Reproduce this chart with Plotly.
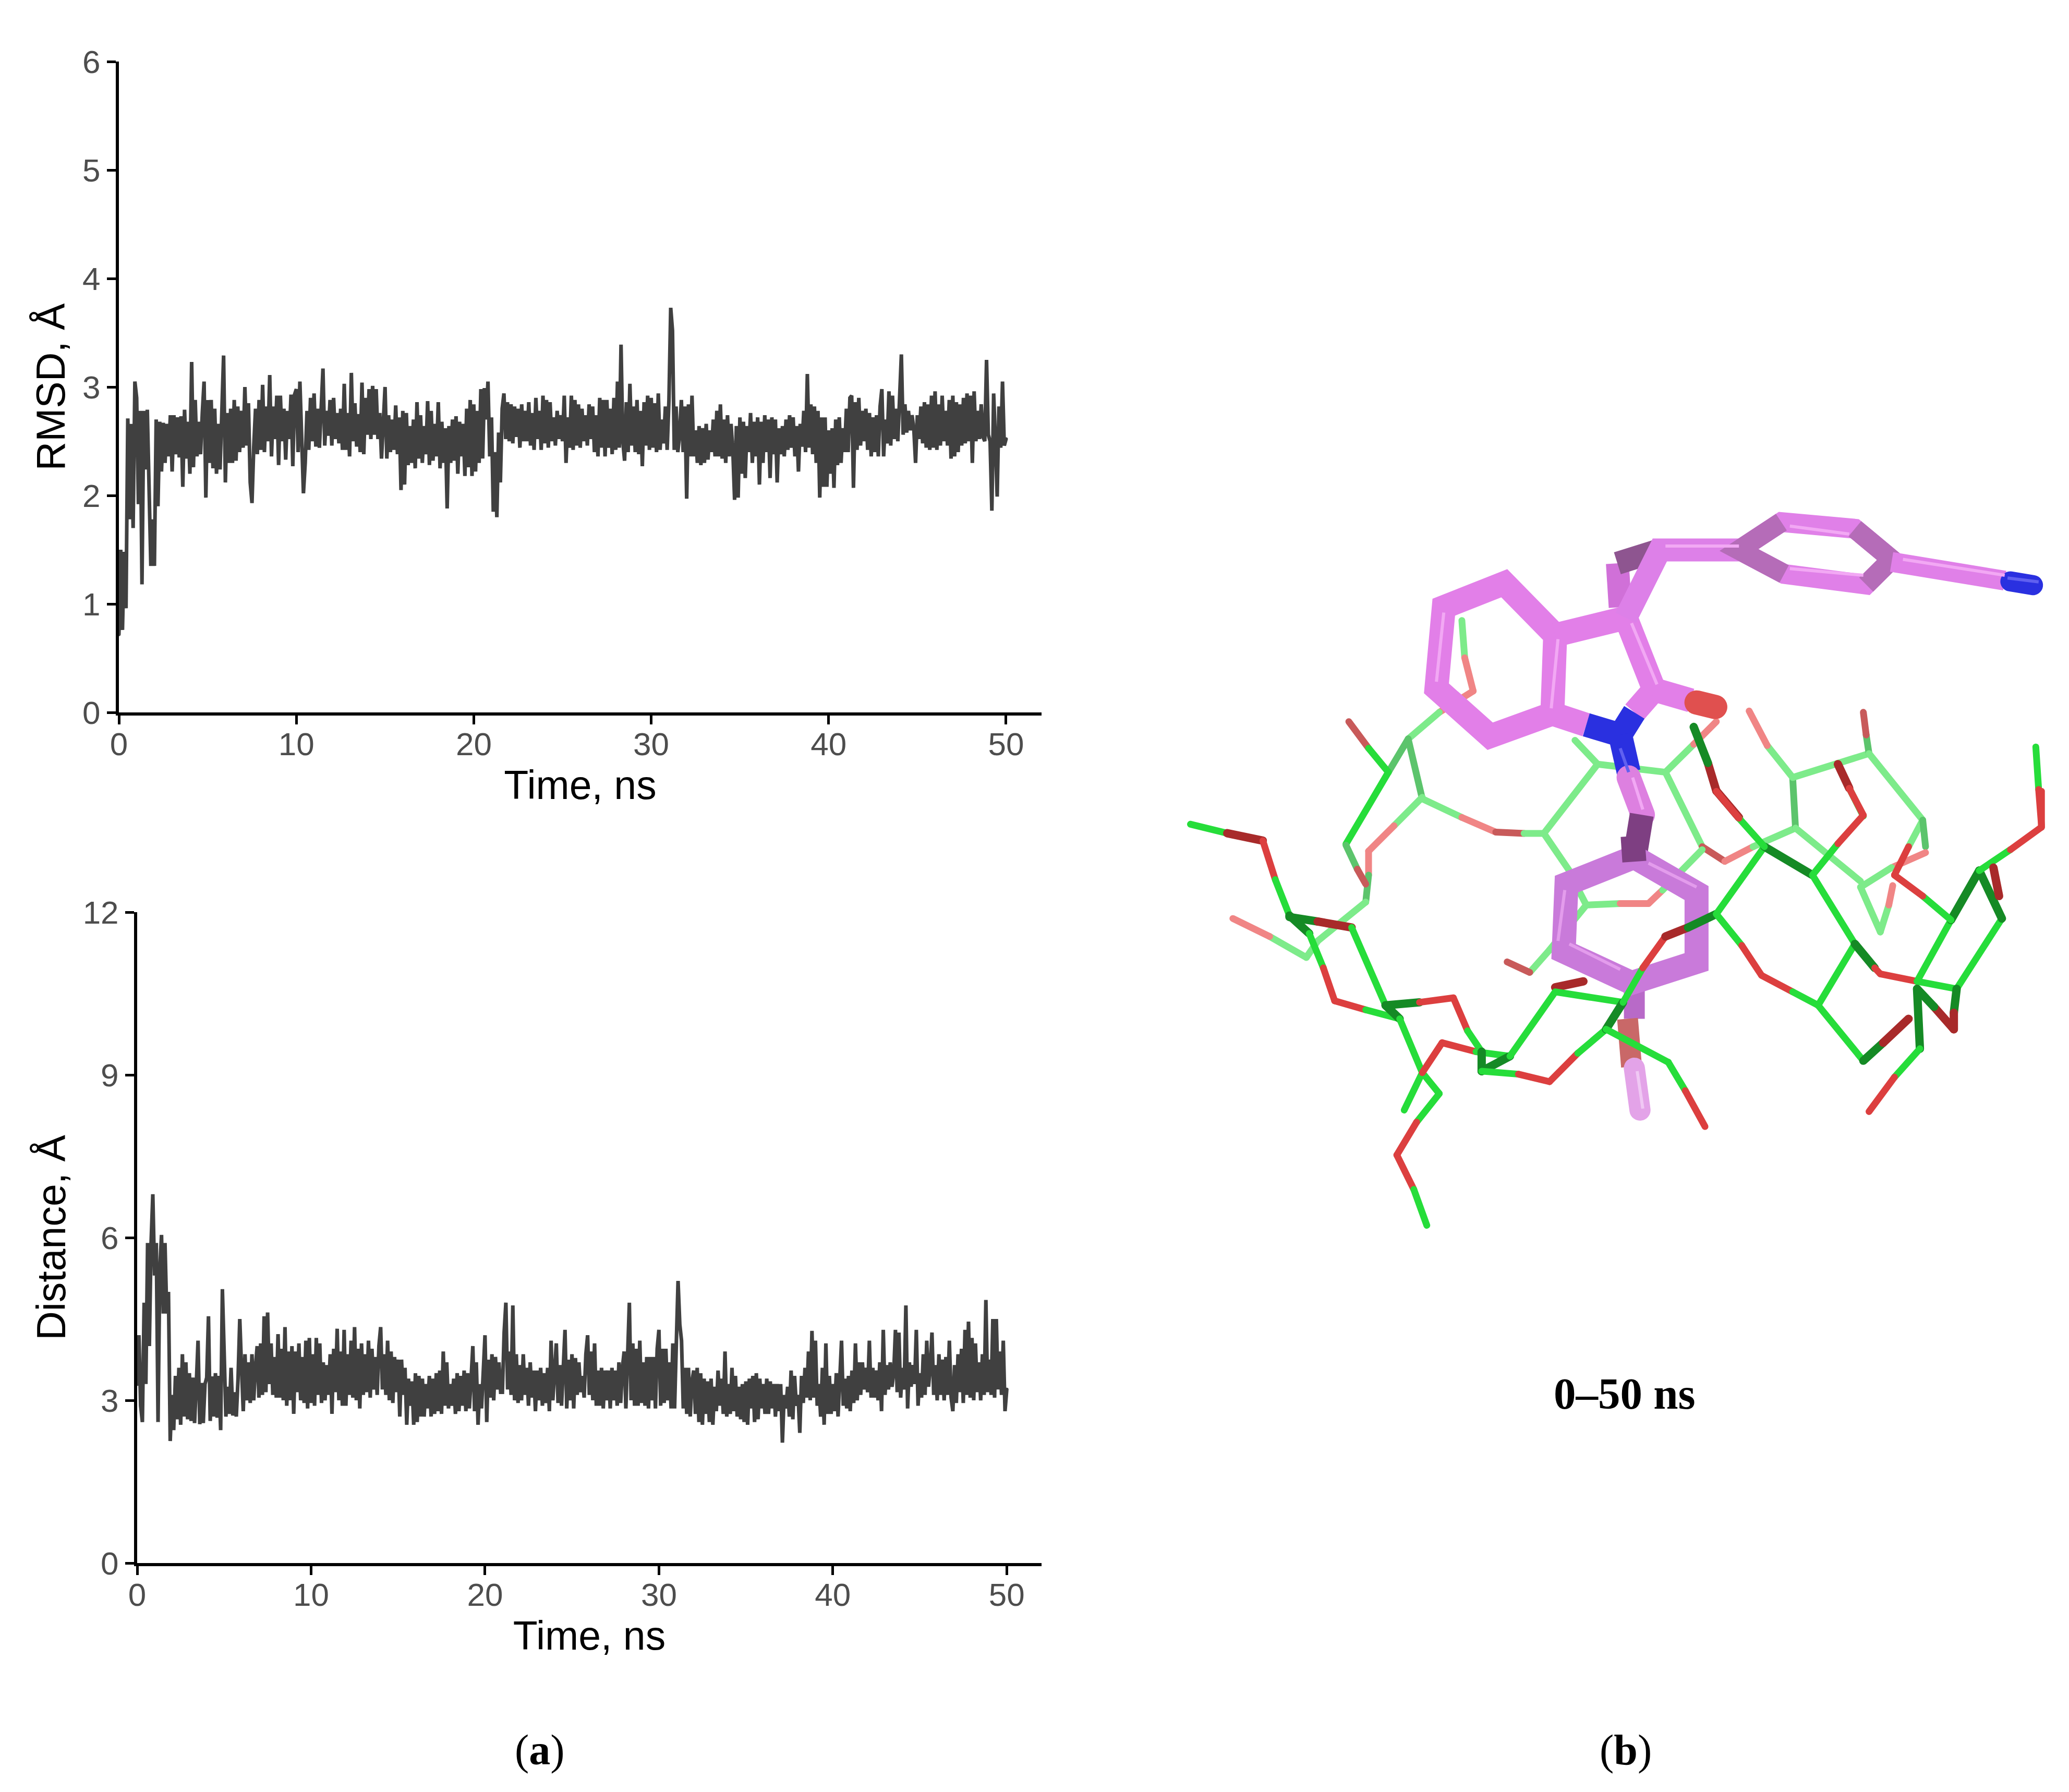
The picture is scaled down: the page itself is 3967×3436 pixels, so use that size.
import plotly.graph_objects as go

W, H = 3967, 3436

# ---------- panel (a): data ----------
time_ns = [i / 10 for i in range(501)]

rmsd = [
0.72,1.50,0.76,1.48,0.96,2.71,1.78,2.66,1.70,3.05,
2.90,1.92,2.78,1.18,2.78,2.24,2.79,2.18,1.35,1.78,
1.35,2.70,1.90,2.68,2.22,2.67,2.30,2.66,2.36,2.74,
2.22,2.74,2.38,2.72,2.35,2.73,2.08,2.79,2.34,2.68,
2.20,3.23,2.26,2.88,2.36,2.68,2.38,2.76,3.05,1.98,
2.88,2.30,2.88,2.25,2.80,2.20,2.66,2.24,2.72,3.29,
2.12,2.76,2.30,2.80,2.30,2.88,2.32,2.82,2.40,2.78,
2.44,3.00,2.46,2.85,2.12,1.93,2.45,2.80,2.38,2.88,
2.42,3.02,2.40,2.82,2.50,3.11,2.36,2.82,2.52,2.92,
2.28,2.92,2.50,2.80,2.33,2.78,2.52,2.93,2.27,2.93,
2.98,2.40,3.05,2.38,2.02,2.30,2.78,2.42,2.90,2.50,
2.94,2.45,2.80,2.44,2.75,3.17,2.46,2.78,2.55,2.88,
2.46,2.90,2.52,2.76,2.48,2.80,2.42,3.03,2.42,2.76,
2.36,3.13,2.50,2.85,2.45,2.75,2.40,3.04,2.38,2.90,
2.56,2.98,2.52,3.01,2.56,2.98,2.52,2.76,2.34,2.72,
3.00,2.34,2.74,2.40,2.70,2.42,2.83,2.38,2.72,2.05,
2.78,2.10,2.76,2.28,2.64,2.30,2.70,2.25,2.86,2.34,
2.74,2.30,2.64,2.38,2.87,2.28,2.78,2.32,2.66,2.36,
2.86,2.25,2.68,2.30,2.62,1.88,2.64,2.30,2.70,2.32,
2.73,2.20,2.68,2.36,2.66,2.18,2.80,2.26,2.88,2.18,
2.84,2.22,2.78,2.30,2.98,2.34,2.99,2.70,3.05,2.36,
2.72,1.85,2.40,1.80,2.58,2.12,2.80,2.94,2.52,2.86,
2.50,2.84,2.48,2.82,2.54,2.80,2.44,2.84,2.50,2.78,
2.50,2.86,2.46,2.76,2.42,2.90,2.52,2.78,2.42,2.92,
2.48,2.88,2.44,2.86,2.50,2.72,2.46,2.78,2.52,2.74,
2.50,2.92,2.30,2.72,2.44,2.92,2.42,2.88,2.46,2.84,
2.44,2.80,2.50,2.74,2.46,2.84,2.52,2.82,2.40,2.74,
2.36,2.90,2.44,2.88,2.36,2.88,2.44,2.80,2.38,2.90,
2.42,3.05,2.44,3.39,2.50,2.32,2.86,2.40,3.03,2.46,
2.82,2.40,2.88,2.38,2.78,2.27,2.86,2.46,2.92,2.42,
2.90,2.44,2.85,2.40,2.94,2.42,2.70,2.48,2.82,2.42,
2.88,3.73,3.52,2.42,2.82,2.40,2.56,2.88,2.40,2.82,
1.97,2.84,2.36,2.92,2.36,2.60,2.30,2.64,2.28,2.62,
2.30,2.66,2.33,2.60,2.40,2.70,2.36,2.78,2.36,2.84,
2.34,2.70,2.30,2.74,2.36,2.66,2.42,1.96,2.64,1.98,
2.72,2.20,2.68,2.16,2.64,2.40,2.76,2.30,2.68,2.36,
2.72,2.10,2.68,2.30,2.74,2.40,2.70,2.16,2.72,2.38,
2.70,2.12,2.62,2.38,2.64,2.36,2.70,2.42,2.74,2.44,
2.72,2.36,2.64,2.22,2.66,2.45,2.78,2.40,3.12,2.44,
2.84,2.38,2.82,2.30,2.78,1.98,2.72,2.08,2.72,2.08,
2.60,2.20,2.62,2.07,2.70,2.28,2.72,2.30,2.62,2.40,
2.80,2.40,2.90,2.92,2.07,2.86,2.42,2.90,2.46,2.78,
2.50,2.80,2.42,2.76,2.36,2.72,2.40,2.74,2.36,2.82,
2.98,2.36,2.70,2.48,2.96,2.46,2.92,2.52,2.80,2.50,
2.88,3.30,2.56,2.84,2.58,2.78,2.60,2.74,2.62,2.30,
2.74,2.52,2.82,2.48,2.86,2.44,2.84,2.42,2.92,2.44,
2.96,2.42,2.84,2.46,2.92,2.50,2.78,2.46,2.88,2.34,
2.92,2.36,2.86,2.40,2.84,2.46,2.90,2.48,2.94,2.50,
2.92,2.30,2.96,2.50,2.78,2.52,2.84,2.54,2.50,3.25,
2.56,2.50,1.86,2.94,2.50,1.99,2.82,2.44,3.05,2.46,
2.52]

distance = [
3.30,4.20,2.90,2.60,4.80,3.30,5.90,4.00,5.90,6.80,
5.30,5.90,2.60,5.40,6.05,4.60,5.90,4.60,5.00,2.25,
3.10,2.45,3.45,2.65,3.60,2.55,3.85,2.70,3.70,2.65,
3.50,2.62,3.42,2.58,3.30,4.10,2.56,3.32,2.58,3.30,
3.42,4.55,2.62,3.44,2.70,3.50,2.68,3.45,2.45,5.05,
3.90,2.70,3.25,2.75,3.60,2.72,3.15,2.70,3.40,4.50,
3.60,2.80,3.85,3.00,3.70,2.95,3.85,3.00,3.60,4.00,
3.05,4.05,3.10,4.55,3.15,4.62,3.30,4.05,3.10,3.80,
3.05,4.22,3.05,3.95,3.00,4.35,2.90,3.90,3.00,4.00,
2.75,3.90,3.15,4.05,3.00,3.80,2.95,4.10,2.85,4.15,
2.95,3.85,2.90,4.15,3.10,4.05,2.95,3.70,3.00,3.65,
3.10,3.85,2.75,3.95,3.15,4.32,3.00,3.90,2.90,4.30,
2.90,3.85,3.10,4.10,3.05,4.35,3.00,3.95,2.85,4.05,
3.10,3.85,3.15,4.10,3.05,3.95,3.20,3.80,3.10,4.00,
4.35,3.20,3.85,3.10,4.10,3.00,3.90,2.95,3.80,3.15,
3.75,2.70,3.75,3.10,3.60,2.55,3.40,2.90,3.35,2.55,
3.50,2.60,3.45,2.70,3.40,2.70,3.30,2.85,3.45,2.70,
3.40,2.75,3.50,2.80,3.55,2.75,3.90,2.90,3.70,2.85,
3.30,2.90,3.40,2.75,3.50,2.80,3.45,2.90,3.55,2.80,
3.50,2.85,3.40,4.00,2.80,3.70,2.55,3.30,2.85,3.55,
4.20,2.60,3.75,3.05,3.85,3.00,3.80,3.20,3.70,3.15,
3.15,4.25,4.80,3.20,3.90,3.10,4.75,3.00,3.85,2.95,
3.65,3.00,3.85,3.10,3.60,2.90,3.70,3.05,3.55,2.80,
3.55,3.00,3.60,2.90,3.50,2.95,3.60,2.80,4.10,3.00,
3.70,4.05,2.95,3.65,2.90,3.70,4.30,2.85,3.75,3.00,
3.85,2.85,3.78,3.10,3.70,3.15,3.45,3.05,3.85,4.20,
3.10,3.90,3.00,4.05,2.90,3.55,2.90,3.60,2.85,3.55,
3.00,3.55,2.85,3.60,3.00,3.55,2.90,3.70,2.95,3.60,
3.90,2.85,4.00,4.80,3.00,4.05,2.90,3.95,2.90,4.10,
2.95,3.70,2.90,3.80,2.85,3.80,3.00,3.80,2.85,3.95,
4.30,2.90,3.95,2.95,3.95,3.00,3.70,2.85,4.05,2.85,
4.05,5.20,4.40,4.10,2.85,3.60,2.75,3.60,2.70,3.35,
3.55,2.75,3.60,2.60,3.50,2.55,3.40,2.75,3.35,2.60,
3.40,2.55,3.25,2.80,3.55,2.90,3.40,2.75,3.90,2.70,
3.30,2.75,3.60,2.80,3.45,2.70,3.25,2.65,3.30,2.60,
3.35,2.55,3.40,2.85,3.45,2.60,3.50,2.65,3.40,2.85,
3.30,2.75,3.40,2.75,3.35,2.85,3.30,2.70,3.30,2.80,
3.30,2.22,3.10,2.85,3.25,2.70,3.55,2.65,3.45,2.90,
3.10,2.40,3.45,2.95,3.60,3.05,3.90,3.00,4.28,3.05,
4.10,2.90,3.30,2.70,3.60,2.55,4.05,2.75,3.45,2.75,
3.30,2.80,3.50,2.70,3.40,4.10,2.90,3.40,2.85,3.45,
2.80,3.55,2.95,4.05,3.00,3.70,3.10,3.70,3.20,3.60,
3.15,4.10,3.05,3.60,3.05,3.55,3.00,3.70,2.80,4.30,
3.10,3.65,3.20,3.70,3.25,3.50,4.30,3.15,4.25,3.05,
3.60,3.20,4.75,2.85,3.70,3.25,3.65,3.30,4.30,2.90,
3.50,3.05,3.85,3.10,4.10,3.25,3.60,4.25,3.10,3.65,
3.00,3.85,3.10,3.75,3.00,3.80,3.10,4.10,3.05,2.80,
3.65,2.95,3.85,3.15,3.95,2.95,4.30,3.10,4.45,3.05,
4.15,3.00,4.05,3.15,3.70,3.00,3.85,3.10,4.85,3.15,
3.75,3.10,4.50,3.05,4.50,3.20,3.90,3.10,4.10,2.80,
3.20]

x_ticks = [0, 10, 20, 30, 40, 50]
rmsd_ticks = [0, 1, 2, 3, 4, 5, 6]
distance_ticks = [0, 3, 6, 9, 12]

# ---------- panel (b): stick model ----------
# bonds: (colour key, x1, y1, x2, y2); "upper" and "lower" are two reading frames
palette = {"G": "#26DD3A", "R": "#DC3F3F", "g": "#7DEB8A", "r": "#F08585",
           "D": "#158A25", "E": "#A82A2A", "M": "#5CC46C", "n": "#C85A5A"}

back_upper = [
("g",510,470,515,610),("r",515,610,530,735),("r",530,735,470,815),("g",470,815,415,915),
("M",415,915,380,1040),("n",310,850,345,950),("G",345,950,380,1040),("G",380,1040,305,1310),
("M",415,915,440,1140),("g",440,1140,510,1210),("r",510,1210,570,1265),("n",570,1265,620,1270),
("g",620,1270,655,1270),("g",655,1270,750,1010),("g",655,1270,700,1410),("g",710,920,750,1010),
("g",750,1010,870,1040),("g",870,1040,920,935),("r",920,935,960,850),("g",870,1040,935,1320),
("n",935,1320,975,1375),("r",975,1375,1025,1320),("g",1025,1320,1100,1250),("M",1100,1250,1095,1060),
("g",1095,1060,1230,970),("g",1095,1060,1050,940),("r",1050,940,1018,810),("M",1230,970,1225,900),
("n",1225,900,1220,815),("g",1230,970,1325,1220),("g",1325,1220,1300,1320),("M",1325,1220,1330,1320),
("g",1100,1250,1215,1450),
]
back_lower = [
("g",440,50,390,145),("r",390,145,345,230),("r",345,230,345,310),("M",345,310,340,400),
("g",340,400,255,530),("g",255,530,235,585),("g",235,585,170,515),("r",170,515,105,455),
("M",305,210,325,290),("n",325,290,340,340),("g",1215,350,1250,500),("g",1250,500,1265,410),
("r",1265,410,1272,345),("r",1330,235,1270,285),("g",1270,285,1215,350),
("g",730,410,790,405),("r",790,405,840,405),("r",840,405,865,360),("g",865,360,935,225),
("g",730,410,700,300),("g",730,410,665,560),("g",665,560,630,635),("n",630,635,590,600),
]
front_upper = [
("E",1000,1210,960,1110),("E",960,1110,945,1005),("D",945,1005,920,870),
("G",1220,1205,1195,1100),("E",1195,1100,1175,1010),
("G",1530,1105,1525,945),("R",1530,1105,1535,1240),
]
front_lower = [
("G",30,140,95,170),("E",95,170,158,195),("R",158,195,180,325),("G",180,325,205,445),
("D",205,445,240,505),("D",205,450,255,465),("E",255,465,315,485),("G",240,505,265,620),
("R",265,620,285,730),("R",285,730,340,760),("G",340,760,400,790),("G",315,485,375,745),
("D",375,745,435,735),("R",435,735,495,720),("R",495,720,520,830),("G",520,830,545,900),
("D",375,745,400,790),("G",400,790,440,970),("G",440,970,470,1040),("G",470,1040,430,1135),
("R",430,1135,395,1245),("R",395,1245,425,1360),("G",425,1360,448,1480),("G",440,970,408,1095),
("R",440,970,475,870),("R",475,870,535,900),("G",535,900,595,915),("D",545,900,545,965),
("D",545,965,595,915),("G",545,965,610,975),("R",610,975,665,1000),("R",665,1000,715,905),
("G",715,905,765,825),("G",595,915,675,700),("E",675,685,725,665),("G",675,700,795,735),
("D",795,735,765,825),("G",795,735,830,620),("R",830,620,870,515),("E",870,515,910,485),
("D",910,485,960,440),("G",765,825,875,935),("G",875,935,905,1030),("R",905,1030,940,1150),
("G",960,440,1045,215),("D",1045,215,1130,310),("G",1130,310,1175,205),("R",1175,205,1220,110),
("R",1220,110,1195,20),("G",1045,215,1000,120),("R",1000,120,960,30),
("G",960,440,1005,545),("R",1005,545,1040,645),("R",1040,645,1095,700),("G",1095,700,1140,745),
("G",1140,745,1205,540),("G",1130,310,1205,540),("D",1205,540,1240,620),("R",1240,620,1250,640),
("R",1250,640,1315,665),("G",1315,665,1385,690),("G",1140,745,1220,930),("D",1220,930,1255,870),
("E",1255,870,1300,790),("G",1315,665,1375,460),("G",1385,690,1465,455),("D",1375,460,1425,295),
("D",1425,295,1465,455),("G",1425,295,1480,225),("R",1480,225,1535,150),("R",1535,150,1535,30),
("E",1450,285,1460,380),("G",1375,460,1325,380),("R",1325,380,1275,310),("R",1275,310,1300,215),
("D",1385,690,1380,770),("E",1380,770,1380,825),("E",1380,825,1345,750),("D",1345,750,1315,690),
("D",1315,690,1320,890),("G",1320,890,1275,985),("R",1275,985,1230,1100),
]

# ligand paths: (colour, width, frame, [x, y, x, y ...]); a fractional width asks for a rounded end
ligand_paths = [
("#D070D8",44,"u",[785,255,790,420]),("#8E5590",44,"u",[860,205,785,255]),
("#E27FE8",46,"u",[675,525,585,330,478,420,465,725,560,905,670,820,675,525]),
("#E27FE8",46,"u",[675,525,800,460,850,730,815,815]),("#E27FE8",46,"u",[670,820,730,862]),
("#E27FE8",46,"u",[850,730,915,770]),("#E0504F",46.5,"u",[925,778,958,795]),
("#2A30E0",46,"u",[730,862,790,900,815,815]),("#2A30E0",46,"u",[790,900,805,1040]),
("#DD80E0",46.5,"u",[805,1060,830,1200]),("#7E3F82",46,"u",[828,1200,815,1370]),
("#B86AC8",40,"l",[815,680,815,790]),("#C96868",40,"l",[803,790,810,950]),
("#E3A3E8",40.5,"l",[815,955,825,1095]),
("#C97ADA",46,"l",[815,250,925,370,925,600,810,670,690,565,695,340,815,250]),
("#7E3F82",46,"l",[812,180,815,265]),
("#DD80E8",44,"u",[800,460,860,205,1000,205]),
("#E080E8",38,"u",[1000,205,1075,100,1205,125,1270,240,1225,335,1080,295,1000,205]),
("#B56CB8",38,"u",[1075,100,1000,205,1080,295]),("#B56CB8",38,"u",[1205,125,1270,240,1225,335]),
("#E080E8",38,"u",[1270,250,1470,320]),("#2A30E0",38.5,"u",[1480,323,1520,337]),
("#F2A8F4",6,"u",[478,440,465,700]),("#F2A8F4",6,"u",[680,540,668,800]),
("#F2A8F4",6,"u",[810,480,855,710]),("#F2A8F4",6,"u",[870,190,1000,190]),
("#F2A8F4",6,"u",[1290,240,1470,300]),("#F2A8F4",6,"u",[1090,115,1195,145]),
("#F2A8F4",6,"u",[1090,275,1220,300]),("#6060F0",6,"u",[790,950,805,1040]),
("#6060F0",6,"u",[1475,310,1530,325]),("#F2A8F4",6,"u",[812,1060,830,1180]),
("#E39CEC",6,"l",[840,270,925,350]),("#E39CEC",6,"l",[700,540,790,625]),
("#E39CEC",6,"l",[692,360,680,530]),("#F0C8F4",6,"l",[820,965,830,1090]),
]

def fx(x):
    return 2250 + x * 1700 / 1568

def fy(y, frame):
    if frame == "u":
        return 950 + y * 800 / 1568
    return 1500 + y * 900 / 1568

fig = go.Figure()

LINE = "#404040"
fig.add_trace(go.Scatter(x=time_ns, y=rmsd, mode="lines", xaxis="x", yaxis="y",
                         line=dict(color=LINE, width=7), showlegend=False))
fig.add_trace(go.Scatter(x=time_ns, y=distance, mode="lines", xaxis="x2", yaxis="y2",
                         line=dict(color=LINE, width=7), showlegend=False))

def add_bonds(bonds, frame):
    for key, x1, y1, x2, y2 in bonds:
        fig.add_trace(go.Scatter(
            x=[fx(x1), fx(x2)], y=[fy(y1, frame), fy(y2, frame)], mode="lines",
            xaxis="x3", yaxis="y3", showlegend=False,
            line=dict(color=palette[key], width=16 if key in "DE" else 13)))

add_bonds(back_upper, "u")
add_bonds(back_lower, "l")
for colour, width, frame, pts in ligand_paths:
    fig.add_trace(go.Scatter(
        x=[fx(v) for v in pts[0::2]], y=[fy(v, frame) for v in pts[1::2]], mode="lines",
        xaxis="x3", yaxis="y3", showlegend=False, line=dict(color=colour, width=width)))
add_bonds(front_upper, "u")
add_bonds(front_lower, "l")

TICKFONT = dict(family="Liberation Sans", size=62, color="#4d4d4d")
TITLEFONT = dict(family="Liberation Sans", size=77, color="#000000")

def axis(title, domain, rng, ticks, standoff, label_shift=0):
    return dict(domain=domain, range=rng, tickmode="array", tickvals=ticks,
                ticktext=[str(t) for t in ticks], showgrid=False, zeroline=False,
                automargin=False, ticklabelstandoff=label_shift,
                showline=True, linecolor="#000000", linewidth=6, ticks="outside",
                ticklen=17, tickwidth=5, tickcolor="#000000", tickfont=TICKFONT,
                title=dict(text=title, font=TITLEFONT, standoff=standoff))

fig.update_layout(
    width=W, height=H, autosize=False, margin=dict(l=0, r=0, t=0, b=0, autoexpand=False),
    paper_bgcolor="#ffffff", plot_bgcolor="rgba(0,0,0,0)",
    xaxis=dict(axis("Time, ns", [228 / W, 1997 / W], [0, 52], x_ticks, 20, -15), anchor="y"),
    yaxis=dict(axis("RMSD, Å", [1 - 1366 / H, 1 - 118 / H], [0, 6], rmsd_ticks, 10), anchor="x"),
    xaxis2=dict(axis("Time, ns", [263 / W, 1997 / W], [0, 52], x_ticks, 20, -15), anchor="y2"),
    yaxis2=dict(axis("Distance, Å", [1 - 2997 / H, 1 - 1749 / H], [0, 12], distance_ticks, 10), anchor="x2"),
    xaxis3=dict(domain=[0, 1], range=[0, W], visible=False, anchor="y3"),
    yaxis3=dict(domain=[0, 1], range=[H, 0], visible=False, anchor="x3"),
    annotations=[
        dict(text="<b>0–50 ns</b>", x=3115 / W, y=1 - 2672 / H, xref="paper", yref="paper",
             showarrow=False, xanchor="center", yanchor="middle",
             font=dict(family="Liberation Serif", size=85, color="#000000")),
        dict(text="(<b>a</b>)", x=1035 / W, y=1 - 3355 / H, xref="paper", yref="paper",
             showarrow=False, xanchor="center", yanchor="middle",
             font=dict(family="Liberation Serif", size=82, color="#000000")),
        dict(text="(<b>b</b>)", x=3117 / W, y=1 - 3355 / H, xref="paper", yref="paper",
             showarrow=False, xanchor="center", yanchor="middle",
             font=dict(family="Liberation Serif", size=82, color="#000000")),
    ],
)

post = """
document.body.style.margin='0';
document.querySelectorAll('path.js-line').forEach(function(p){
  var w = parseFloat(p.style.strokeWidth);
  if ((w < 30 && w > 6.5) || w % 1 !== 0) { p.style.strokeLinecap='round'; }
});
"""
fig.write_html("out.html", post_script=post, config={"displayModeBar": False})
